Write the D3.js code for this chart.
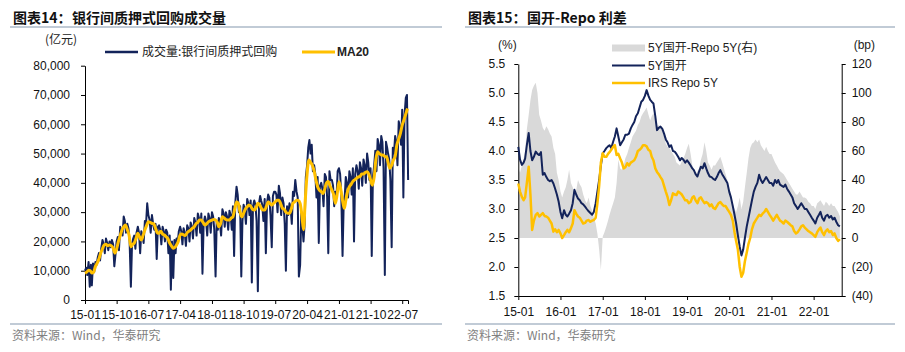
<!DOCTYPE html>
<meta charset="utf-8" />
<script src="https://cdn.jsdelivr.net/npm/d3@7"></script>
<style>
  body { margin: 0; background: #fff; }
</style>
<div id="my_dataviz"></div>
<script>
  // ---------- left chart: 银行间质押式回购成交量 (亿元), ~3 readings per month ----------
  const volDays = [1, 11, 21];
  const vol2015 = [10000,11000,8500, 13000,4500,12000, 5000,12500,9500, 13000,12000,14500, 16000,13500,17500, 20500,19000,16000, 21000,19500,17000, 20000,18000,20500, 19000,11500,15500, 20000,21500,17000, 25000,23500,22000, 28500,27000,23000];
  const vol2016 = [26000,24500,20000, 4500,19000,21000, 22000,17500,23000, 25000,23000,16000, 23500,22000,19500, 27000,26000,33000, 29000,27500,23000, 29000,26000,24000, 26000,14000,25000, 25500,24000,19000, 25000,23500,20000, 24000,23000,16000];
  const vol2017 = [22000,3500,20000, 7500,20500,16000, 21000,19500,23500, 25000,23500,19000, 24500,23000,18500, 25500,24500,20000, 26500,25000,21000, 28000,26500,22000, 29500,28000,23000, 29500,9000,26000, 28500,27000,22000, 29500,28000,23000];
  const vol2018 = [30000,28500,24000, 8000,27000,24000, 28000,26000,22000, 31000,29500,25000, 30000,28500,24000, 30500,29000,24000, 32000,15000,33000, 38700,36000,30000, 32000,8000,27000, 32500,31000,26000, 34500,33000,29000, 34000,6000,32000];
  const vol2019 = [34000,32500,27000, 3000,33000,35500, 34000,32500,27000, 34500,16000,33000, 36000,35000,29000, 18000,35500,37000, 37000,36000,30000, 39000,36500,29000, 35000,33000,26000, 10000,32000,29000, 33000,31500,26000, 37000,35500,41000];
  const vol2020 = [37000,35000,8000, 12000,30000,25000, 20000,26000,42000, 46000,52000,54600, 50000,53000,44000, 46000,43000,35000, 42000,19500,39000, 40000,38000,32000, 43000,42000,35000, 16000,44000,41000, 41000,39000,32000, 37000,35000,44000];
  const vol2021 = [45000,43000,36000, 15000,33000,36000, 42000,40000,35000, 44000,42000,36000, 45000,20000,43000, 46000,44000,38000, 47000,45000,39000, 48000,46000,40000, 50000,47000,41000, 45000,15000,42000, 46000,51000,44000, 55000,53000,46000];
  const vol2022 = [56000,54000,45000, 8500,54000,52000, 50000,48000,41000, 18000,52000,50000, 56000,54000,46000, 61000,59000,53000, 65000,35000,63000, 69000,70000,41000];

  // MA20, two readings per month
  const halfDays = [1, 16];
  const ma2015 = [9200,9500, 10200,10000, 9200,9500, 11500,12600, 14000,16000, 17500,18800, 19000,18500, 18800,18500, 17700,16000, 17500,19900, 22000,23900, 25000,25600];
  const ma2016 = [24000,22200, 18200,19000, 19400,21000, 22800,21500, 20500,22000, 23900,25500, 26700,26500, 26200,26000, 24500,23000, 22800,23500, 22500,22200, 21600,21000];
  const ma2017 = [19400,18500, 17700,18000, 18800,20000, 22200,22500, 22200,22000, 23000,23500, 23900,24500, 25000,26000, 26500,27300, 27300,26500, 25600,26000, 26700,27000];
  const ma2018 = [27300,27500, 27300,26500, 25000,26000, 28400,28000, 27500,27300, 27300,28000, 28400,31000, 33500,33000, 30000,28400, 29600,31000, 31800,32400, 32000,31000];
  const ma2019 = [30700,31500, 33000,32500, 31500,30700, 30700,32000, 33500,33000, 32400,33000, 33500,34100, 34100,33000, 31300,31000, 30000,29600, 29600,31000, 33000,33500];
  const ma2020 = [34100,34000, 33000,29000, 24000,34000, 43000,47800, 47000,46000, 44000,41000, 38700,37500, 37000,36400, 38000,40000, 40500,39000, 37500,36000, 33000,36000];
  const ma2021 = [40400,38000, 34000,31300, 34000,37000, 38700,39500, 40500,41000, 41500,42000, 42100,43000, 43000,43500, 43800,43000, 41000,39200, 42000,48000, 50600,50000];
  const ma2022 = [49500,49500, 49000,48900, 47000,45000, 46000,47800, 49000,53000, 55000,57000, 59700,61500, 63500,65400];

  // ---------- right chart: 国开-Repo 利差, two readings per month ----------
  const cdb2015 = [4.07,3.85,3.76,3.8,3.87,4.1,4.31,4.0,3.84,3.9,3.99,3.95,3.93,3.98,3.59,3.62,3.55,3.5,3.48,3.5,3.44,3.35,3.25,3.13];
  const cdb2016 = [2.95,2.84,2.98,2.9,2.87,2.92,2.98,3.1,3.33,3.25,3.18,3.15,3.1,3.08,3.04,3.0,2.96,2.93,2.9,2.95,3.1,3.3,3.5,3.75];
  const cdb2017 = [3.96,4.0,4.05,4.08,4.1,4.05,4.16,4.25,4.39,4.25,4.1,4.15,4.2,4.28,4.28,4.3,4.39,4.45,4.5,4.6,4.65,4.75,4.85,4.88];
  const cdb2018 = [4.95,5.05,4.95,4.88,4.85,4.82,4.6,4.36,4.4,4.42,4.38,4.3,4.2,4.15,4.07,4.1,4.0,3.99,3.95,3.9,3.84,3.88,3.85,3.8];
  const cdb2019 = [3.84,3.8,3.75,3.7,3.67,3.6,3.56,3.65,3.73,3.7,3.79,3.7,3.62,3.56,3.55,3.52,3.5,3.55,3.62,3.67,3.6,3.55,3.5,3.45];
  const cdb2020 = [3.3,3.2,3.05,2.9,2.75,2.55,2.35,2.2,2.3,2.5,2.7,2.85,3.0,3.15,3.3,3.38,3.45,3.59,3.5,3.45,3.5,3.55,3.5,3.45];
  const cdb2021 = [3.45,3.4,3.5,3.45,3.5,3.42,3.4,3.38,3.42,3.35,3.3,3.25,3.2,3.1,3.05,3.0,3.05,3.1,3.05,3.0,3.0,2.95,2.9,2.85];
  const cdb2022 = [2.8,2.75,2.85,2.9,2.95,2.85,2.8,2.88,2.9,2.85,2.88,2.82,2.85,2.78,2.72,2.7];

  const irs2015 = [3.44,3.3,3.21,3.15,3.2,3.45,3.73,3.25,2.64,2.8,2.9,2.93,2.87,2.9,2.93,2.88,2.87,2.85,2.8,2.75,2.61,2.65,2.6,2.64];
  const irs2016 = [2.58,2.5,2.55,2.6,2.64,2.6,2.67,2.75,2.98,2.92,2.87,2.85,2.8,2.75,2.76,2.8,2.81,2.78,2.8,2.81,2.85,3.1,3.4,3.8];
  const irs2017 = [3.96,3.9,3.9,3.95,3.98,4.02,4.07,4.1,3.93,3.95,3.87,3.8,3.7,3.72,3.79,3.75,3.8,3.82,3.84,3.9,4.0,4.02,4.05,4.1];
  const irs2018 = [4.1,4.08,4.02,4.0,3.9,3.84,3.7,3.64,3.6,3.55,3.5,3.4,3.3,3.21,3.07,3.15,3.27,3.25,3.24,3.3,3.28,3.25,3.2,3.15];
  const irs2019 = [3.15,3.1,3.12,3.2,3.22,3.15,3.1,3.18,3.2,3.15,3.1,3.12,3.1,3.05,3.08,3.02,3.0,3.05,3.1,3.12,3.08,3.05,3.05,3.0];
  const irs2020 = [2.95,2.9,2.8,2.6,2.45,2.3,2.0,1.83,1.9,2.1,2.25,2.4,2.5,2.65,2.75,2.8,2.85,2.9,2.88,2.92,2.95,3.0,2.95,2.9];
  const irs2021 = [2.85,2.8,2.85,2.9,2.85,2.8,2.78,2.75,2.8,2.78,2.75,2.72,2.7,2.62,2.58,2.6,2.65,2.7,2.72,2.68,2.65,2.62,2.6,2.58];
  const irs2022 = [2.55,2.52,2.6,2.65,2.68,2.6,2.55,2.62,2.65,2.6,2.62,2.55,2.58,2.5,2.45,2.48];

  // spread, bp (right axis)
  const spr2015 = [48,45,50,55,60,75,85,95,102,105,107,100,85,81,76,74,77,75,72,70,62,58,45,40];
  const spr2016 = [32,28,32,35,40,47,38,35,31,33,40,37,35,30,26,24,28,22,19,14,10,3,-8,-22];
  const spr2017 = [1,4,8,12,16,20,24,28,38,54,48,47,50,55,58,62,66,70,72,74,78,80,84,86];
  const spr2018 = [88,90,85,81,84,86,82,77,78,76,74,70,65,63,62,60,58,56,52,51,50,53,55,58];
  const spr2019 = [62,65,58,50,45,44,46,48,54,58,66,60,52,50,47,50,50,52,54,56,52,48,44,40];
  const spr2020 = [32,28,24,20,18,22,28,20,25,35,45,55,62,65,66,68,66,68,64,62,60,63,60,58];
  const spr2021 = [58,55,52,50,48,46,45,44,42,40,38,36,34,32,30,30,32,30,28,28,27,25,24,22];
  const spr2022 = [22,20,24,25,26,24,22,25,24,22,24,22,22,20,18,15];

  // tick labels
  const leftYTicks = [0, 10000, 20000, 30000, 40000, 50000, 60000, 70000, 80000];
  const rightPctTicks = [1.5, 2.0, 2.5, 3.0, 3.5, 4.0, 4.5, 5.0, 5.5];
  const rightBpTicks = [-40, -20, 0, 20, 40, 60, 80, 100, 120];

  // turn the per-year arrays into dated points
  function toSeries(yearArrays, days) {
    var out = [];
    yearArrays.forEach(function (arr, yi) {
      arr.forEach(function (v, i) {
        out.push({
          date: new Date(2015 + yi, Math.floor(i / days.length), days[i % days.length]),
          v: v,
        });
      });
    });
    return out;
  }

  const volume = toSeries([vol2015, vol2016, vol2017, vol2018, vol2019, vol2020, vol2021, vol2022], volDays);
  const ma20 = toSeries([ma2015, ma2016, ma2017, ma2018, ma2019, ma2020, ma2021, ma2022], halfDays);
  const cdb = toSeries([cdb2015, cdb2016, cdb2017, cdb2018, cdb2019, cdb2020, cdb2021, cdb2022], halfDays);
  const irs = toSeries([irs2015, irs2016, irs2017, irs2018, irs2019, irs2020, irs2021, irs2022], halfDays);
  const spread = toSeries([spr2015, spr2016, spr2017, spr2018, spr2019, spr2020, spr2021, spr2022], halfDays);

  const NAVY = "#13235a";
  const GOLD = "#ffc000";
  const RULE = "#8397ad";
  const LATIN = "'Liberation Sans', Arial, 'Noto Sans CJK SC', sans-serif";
  const CJK = "'Noto Sans CJK SC', sans-serif";

  var svg = d3
    .select("#my_dataviz")
    .append("svg")
    .attr("width", 905)
    .attr("height", 352)
    .style("display", "block");

  function styleAxis(g) {
    g.attr("font-size", 12).attr("font-family", LATIN);
    g.selectAll("text").attr("fill", "#111");
    g.selectAll("line, path").attr("stroke", "#000");
  }

  // title / source frame for each panel
  function frame(x0, x1, label, title, titleX) {
    var t = svg
      .append("text")
      .attr("y", 23)
      .attr("font-family", CJK)
      .attr("font-weight", 700)
      .attr("font-size", 14)
      .attr("fill", "#111");
    t.append("tspan").attr("x", x0 + 3).text(label);
    t.append("tspan").attr("x", titleX).text(title);

    svg.append("line").attr("x1", x0).attr("x2", x1).attr("y1", 27).attr("y2", 27)
      .attr("stroke", RULE).attr("stroke-width", 1);
    svg.append("line").attr("x1", x0).attr("x2", x1).attr("y1", 324).attr("y2", 324)
      .attr("stroke", RULE).attr("stroke-width", 1);

    svg
      .append("text")
      .attr("x", x0 + 2)
      .attr("y", 340)
      .attr("font-family", CJK)
      .attr("font-size", 12)
      .attr("fill", "#808080")
      .text("资料来源：Wind，华泰研究");
  }

  frame(10, 442, "图表14：", "银行间质押式回购成交量", 72);
  frame(465, 895, "图表15：", "国开-Repo 利差", 527);

  // ================= left chart =================
  const xL = d3.scaleTime().domain([new Date(2015, 0, 1), new Date(2022, 7, 20)]).range([85, 408]);
  const yL = d3.scaleLinear().domain([0, 80000]).range([300, 65.7]);
  const xTicksL = d3.range(0, 91, 9).map((m) => new Date(2015, m, 1));

  svg.append("g")
    .attr("transform", "translate(0,300)")
    .call(d3.axisBottom(xL).tickValues(xTicksL).tickFormat(d3.timeFormat("%y-%m")).tickSize(4).tickSizeOuter(4).tickPadding(6))
    .call(styleAxis);

  svg.append("g")
    .attr("transform", "translate(85,0)")
    .call(d3.axisLeft(yL).tickValues(leftYTicks).tickFormat(d3.format(",")).tickSize(4).tickSizeOuter(0).tickPadding(11))
    .call(styleAxis);

  svg.append("path")
    .datum(volume)
    .attr("fill", "none")
    .attr("stroke", NAVY)
    .attr("stroke-width", 2)
    .attr("stroke-linejoin", "round")
    .attr("d", d3.line().x((d) => xL(d.date)).y((d) => yL(d.v)));

  svg.append("path")
    .datum(ma20)
    .attr("fill", "none")
    .attr("stroke", GOLD)
    .attr("stroke-width", 3)
    .attr("stroke-linejoin", "round")
    .attr("d", d3.line().curve(d3.curveMonotoneX).x((d) => xL(d.date)).y((d) => yL(d.v)));

  // unit + legend
  svg.append("text").attr("x", 45).attr("y", 44).attr("font-family", CJK).attr("font-size", 12)
    .attr("fill", "#222").text("(亿元)");
  svg.append("line").attr("x1", 105).attr("x2", 138).attr("y1", 52).attr("y2", 52)
    .attr("stroke", NAVY).attr("stroke-width", 2.5);
  svg.append("text").attr("x", 142).attr("y", 56).attr("font-family", CJK).attr("font-size", 12)
    .attr("fill", "#222").text("成交量:银行间质押式回购");
  svg.append("line").attr("x1", 302).attr("x2", 335).attr("y1", 52).attr("y2", 52)
    .attr("stroke", GOLD).attr("stroke-width", 3);
  svg.append("text").attr("x", 337).attr("y", 56).attr("font-family", LATIN).attr("font-size", 12)
    .attr("font-weight", 700).attr("fill", "#222").text("MA20");

  // ================= right chart =================
  const xR = d3.scaleTime().domain([new Date(2015, 0, 1), new Date(2022, 8, 1)]).range([518.3, 841.7]);
  const yPct = d3.scaleLinear().domain([1.5, 5.5]).range([296, 64]);
  const yBp = d3.scaleLinear().domain([-40, 120]).range([296, 64]);
  const xTicksR = d3.range(2015, 2023).map((y) => new Date(y, 0, 1));

  // spread area behind the lines
  svg.append("path")
    .datum(spread)
    .attr("fill", "#d9d9d9")
    .attr("stroke", "none")
    .attr("d", d3.area().x((d) => xR(d.date)).y0(yBp(0)).y1((d) => yBp(d.v)));

  svg.append("g")
    .attr("transform", "translate(0,296)")
    .call(d3.axisBottom(xR).tickValues(xTicksR).tickFormat(d3.timeFormat("%y-%m")).tickSize(4).tickSizeOuter(0).tickPadding(7.5))
    .call(styleAxis);

  svg.append("g")
    .attr("transform", "translate(518.3,0)")
    .call(d3.axisLeft(yPct).tickValues(rightPctTicks).tickFormat(d3.format(".1f")).tickSize(4).tickSizeOuter(0).tickPadding(9))
    .call(styleAxis);

  svg.append("g")
    .attr("transform", "translate(841.7,0)")
    .call(d3.axisRight(yBp).tickValues(rightBpTicks).tickFormat((d) => (d < 0 ? "(" + -d + ")" : d)).tickSize(4).tickSizeOuter(0).tickPadding(6))
    .call(styleAxis);

  svg.append("path")
    .datum(cdb)
    .attr("fill", "none")
    .attr("stroke", NAVY)
    .attr("stroke-width", 2)
    .attr("stroke-linejoin", "round")
    .attr("d", d3.line().x((d) => xR(d.date)).y((d) => yPct(d.v)));

  svg.append("path")
    .datum(irs)
    .attr("fill", "none")
    .attr("stroke", GOLD)
    .attr("stroke-width", 2.5)
    .attr("stroke-linejoin", "round")
    .attr("d", d3.line().x((d) => xR(d.date)).y((d) => yPct(d.v)));

  // units
  svg.append("text").attr("x", 498).attr("y", 49).attr("font-family", LATIN).attr("font-size", 12)
    .attr("fill", "#222").text("(%)");
  svg.append("text").attr("x", 875).attr("y", 49).attr("text-anchor", "end").attr("font-family", LATIN)
    .attr("font-size", 12).attr("fill", "#222").text("(bp)");

  // legend
  svg.append("rect").attr("x", 612).attr("y", 44.5).attr("width", 33).attr("height", 7).attr("fill", "#d9d9d9");
  svg.append("text").attr("x", 648).attr("y", 52).attr("font-family", LATIN).attr("font-size", 12)
    .attr("fill", "#222").text("5Y国开-Repo 5Y(右)");
  svg.append("line").attr("x1", 612).attr("x2", 645).attr("y1", 65.5).attr("y2", 65.5)
    .attr("stroke", NAVY).attr("stroke-width", 2);
  svg.append("text").attr("x", 648).attr("y", 69.5).attr("font-family", LATIN).attr("font-size", 12)
    .attr("fill", "#222").text("5Y国开");
  svg.append("line").attr("x1", 612).attr("x2", 645).attr("y1", 83).attr("y2", 83)
    .attr("stroke", GOLD).attr("stroke-width", 2.5);
  svg.append("text").attr("x", 648).attr("y", 87).attr("font-family", LATIN).attr("font-size", 12)
    .attr("fill", "#222").text("IRS Repo 5Y");
</script>
